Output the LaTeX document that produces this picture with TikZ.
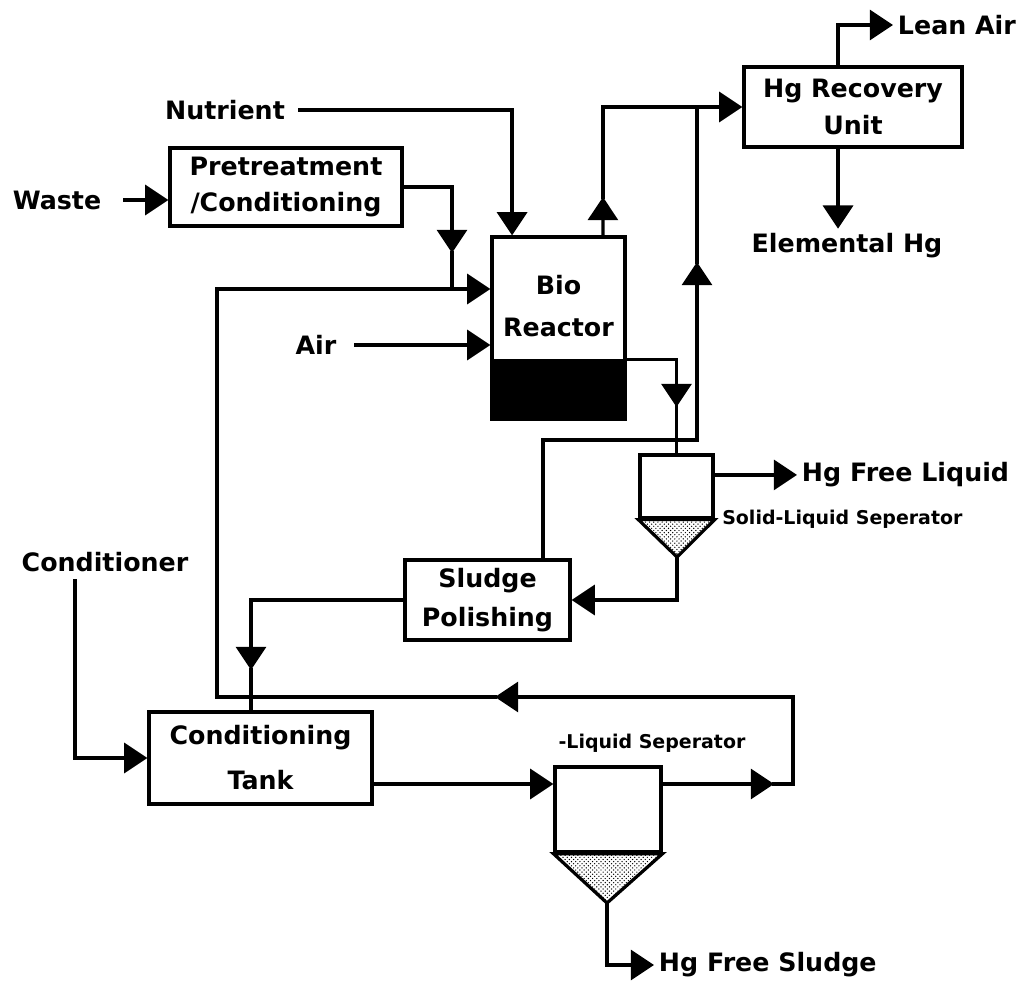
\documentclass[tikz,border=0pt]{standalone}
\usepackage{fontspec}
\setmainfont{DejaVu Sans}
\usetikzlibrary{positioning,arrows.meta,patterns}
\tikzset{
  pipe/.style={line width=2.3pt, line cap=rect},
  flowarrow/.style={-{Triangle[length=5.8mm, width=7.5mm]}, line width=2.3pt, line cap=rect},
  unitbox/.style={draw, line width=2.3pt, minimum width=5cm, minimum height=2cm, align=center, inner sep=0pt},
  hopper/.style={draw, line width=2.3pt, pattern=crosshatch dots},
  seplabel/.style={font=\bfseries\fontsize{13.5}{16}\selectfont, inner sep=0pt}
}

\begin{document}
\begin{tikzpicture}[x=0.25mm, y=-0.25mm, every node/.style={font=\bfseries\fontsize{18}{26}\selectfont}]
  \useasboundingbox (0,0) rectangle (1027,986);
  % process units
  \node[unitbox, minimum width=58mm, minimum height=19.5mm] (pre) at (286,187) {Pretreatment\\/Conditioning};
  \node[unitbox, minimum width=33.25mm, minimum height=31mm] (bio) at (558.5,299) {};
  \node[unitbox, fill=black, minimum width=33.25mm, minimum height=14.5mm] (biobed) at (558.5,390) {};
  \node[align=center] (biotext) at (558.5,306) {Bio\\[4pt]Reactor};
  \node[unitbox, minimum width=54.5mm, minimum height=20mm] (hg) at (853,107) {Hg Recovery\\Unit};
  \node[unitbox, minimum width=41.25mm, minimum height=20mm] (sp) at (487.5,600) {Sludge\\[2pt]Polishing};
  \node[unitbox, minimum width=55.75mm, minimum height=23mm] (tank) at (260.5,758) {Conditioning\\[6pt]Tank};
  % separators
  \node[unitbox, minimum width=18.25mm, minimum height=15.75mm] (sep1) at (676.5,486.5) {};
  \coordinate (sep1tip) at (677,557);
  \draw[hopper] (sep1.south west) -- (sep1.south east) -- (sep1tip) -- cycle;
  \node[unitbox, minimum width=26.5mm, minimum height=21.25mm] (sep2) at (608,809.5) {};
  \coordinate (sep2tip) at (607,903);
  \draw[hopper] (sep2.south west) -- (sep2.south east) -- (sep2tip) -- cycle;
  % stream labels
  \node (waste) at (57,200) {Waste};
  \node (nutr) at (225,110) {Nutrient};
  \node (air) at (316,345) {Air};
  \node (cond) at (105,562) {Conditioner};
  \node[anchor=west] (liq) at (797,475) {Hg Free Liquid};
  \node[anchor=west] (sludge) at (654,965) {Hg Free Sludge};
  \node[anchor=west] (lean) at (893,25) {Lean Air};
  \node (elem) at (847,246) {Elemental Hg};
  \node[seplabel, anchor=west] (sep1lbl) at (722,519) {Solid-Liquid Seperator};
  \node[seplabel] (sep2lbl) at (652,743) {-Liquid Seperator};
  % feeds
  \draw[flowarrow, shorten <=4.5mm] (waste.east) -- (waste.east -| pre.west);
  \draw[flowarrow, shorten <=2.5mm] (nutr.east) -| ([xshift=-11.6mm]bio.north);
  \draw[flowarrow, shorten <=3.5mm] (air.east) -- (air.east -| bio.west);
  \coordinate (prearr) at (452,253);
  \coordinate (join) at (452,289);
  \draw[flowarrow] (pre.east) -| (prearr);
  \draw[pipe] (prearr) -- (join);
  \coordinate (recyc) at (217,697);
  \draw[flowarrow] (recyc) |- (join -| bio.west);
  % off-gas to Hg recovery
  \coordinate (bioarr) at (603,197);
  \draw[flowarrow] ([xshift=11.1mm]bio.north) -- (bioarr);
  \draw[flowarrow] (bioarr) |- (hg.west);
  \draw[flowarrow] ([xshift=-3.75mm]hg.north) |- (lean.west);
  \draw[flowarrow] ([xshift=-3.75mm]hg.south) -- ([xshift=-3.75mm]hg.south |- elem.north);
  % reactor to separator
  \coordinate (sep1arr) at (676.5,407);
  \draw[flowarrow] (biobed.north east) -| (sep1arr);
  \draw[pipe] (sep1arr) -- (sep1.north);
  \draw[flowarrow] ([yshift=2.9mm]sep1.east) -- ([yshift=2.9mm]sep1.east -| liq.west);
  \draw[flowarrow] (sep1tip) |- (sp.east);
  % sludge polishing
  \coordinate (spturn) at (697,440);
  \coordinate (uparr) at (697,262);
  \draw[pipe] ([xshift=13.9mm]sp.north) |- (spturn);
  \draw[flowarrow] (spturn) -- (uparr);
  \draw[pipe] (uparr) -- (uparr |- hg.west);
  \coordinate (tankarr) at (251,670);
  \draw[flowarrow] (sp.west) -| (tankarr);
  \draw[pipe] (tankarr) -- (tankarr |- tank.north);
  % conditioning tank
  \draw[flowarrow, shorten <=1mm] ([xshift=-7.5mm]cond.south) |- (tank.west);
  \draw[flowarrow] ([yshift=-6.5mm]tank.east) -- ([yshift=-6.5mm]tank.east -| sep2.west);
  \coordinate (retarr1) at (774,784);
  \coordinate (retcorner) at (793,697);
  \coordinate (retarr2) at (495,697);
  \draw[flowarrow] (retarr1 -| sep2.east) -- (retarr1);
  \draw[pipe] (retarr1) -| (retcorner);
  \draw[flowarrow] (retcorner) -- (retarr2);
  \draw[pipe] (retarr2) -- (recyc);
  \draw[flowarrow] (sep2tip) |- (sludge.west);
\end{tikzpicture}
\end{document}
